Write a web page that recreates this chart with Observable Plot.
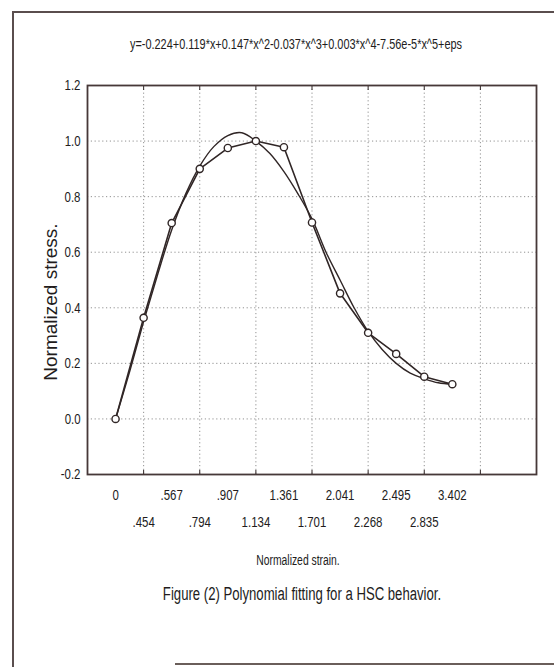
<!DOCTYPE html>
<html><head><meta charset="utf-8">
<script src="https://cdn.jsdelivr.net/npm/d3@7"></script>
<script src="https://cdn.jsdelivr.net/npm/@observablehq/plot@0.6"></script>
<style>
body{margin:0;background:#fff;}
#wrap{position:relative;width:554px;height:667px;overflow:hidden;background:#fff;font-family:"Liberation Sans",Arial,sans-serif;color:#221c1c}
#bl{position:absolute;left:12px;top:11px;width:2px;height:656px;background:#5a4e4e}
#bt{position:absolute;left:12px;top:11px;width:560px;height:2px;background:#5a4e4e}
#bb{position:absolute;left:175px;top:663px;width:400px;height:2px;background:#6a5e5a}
.t{position:absolute;white-space:nowrap;line-height:1}
#chart{position:absolute;left:0;top:0}
</style></head>
<body>
<div id="wrap">
<div id="chart"></div>
<div id="bl"></div><div id="bt"></div><div id="bb"></div>
<div class="t" style="left:296px;top:44px;font-size:14px;transform:translate(-50%,-50%) scaleX(0.78)">y=-0.224+0.119*x+0.147*x^2-0.037*x^3+0.003*x^4-7.56e-5*x^5+eps</div>
<div class="t" style="left:50px;top:302px;font-size:19px;transform:translate(-50%,-50%) rotate(-90deg)">Normalized stress.</div>
<div class="t" style="left:298px;top:560px;font-size:14px;transform:translate(-50%,-50%) scaleX(0.74)">Normalized strain.</div>
<div class="t" style="left:302px;top:594px;font-size:18px;transform:translate(-50%,-50%) scaleX(0.73)">Figure (2) Polynomial fitting for a HSC behavior.</div>
</div>
<script>
// strain tick labels (one per measured point, equally spaced)
const strainLabels = ["0",".454",".567",".794",".907","1.134","1.361","1.701","2.041","2.268","2.495","2.835","3.402"];
// measured normalized stress
const stress = [0.0,0.364,0.705,0.90,0.975,1.0,0.978,0.707,0.452,0.31,0.234,0.152,0.125];
// fitted polynomial curve (position in point-index units)
const fitPos  = [0,0.5,1,1.5,2,2.5,3,3.5,4,4.5,5,5.5,6,6.5,7,7.5,8,8.5,9,9.5,10,10.5,11,11.5,12];
const fitVals = [0.0,0.17,0.35,0.52,0.68,0.81,0.91,0.98,1.02,1.03,1.0,0.955,0.89,0.81,0.72,0.6,0.5,0.4,0.315,0.25,0.2,0.165,0.145,0.13,0.125];
// axis ticks
const yTicks = [-0.2,0,0.2,0.4,0.6,0.8,1.0,1.2];
const xGrid = [-1,1,3,5,7,9,11,13,15];

const pts = stress.map((v,i)=>({i, v}));
const fit = fitPos.map((p,k)=>({p, v: fitVals[k]}));
const idx = strainLabels.map((d,i)=>i);
const ink = "#302626";
const txt = "#221c1c";

const chart = Plot.plot({
  width: 554, height: 667,
  marginLeft: 87, marginTop: 85, marginRight: 18, marginBottom: 193,
  style: {fontFamily: "'Liberation Sans',Arial,sans-serif", fontSize: "15.5px", color: txt, background: "transparent"},
  x: {domain: [-1, 15]},
  y: {domain: [-0.2, 1.2]},
  marks: [
    Plot.gridX(xGrid, {stroke: "#777", strokeOpacity: 0.8, strokeDasharray: "1.2,2.6"}),
    Plot.gridY(yTicks, {stroke: "#777", strokeOpacity: 0.8, strokeDasharray: "1.2,2.6"}),
    Plot.axisY(yTicks, {tickSize: 0, tickPadding: 7, tickFormat: d => d.toFixed(1), label: null, fontSize: 15.5, fill: txt}),
    Plot.axisX(xGrid, {anchor: "bottom", tickSize: -4, tickFormat: () => "", label: null, stroke: ink}),
    Plot.axisX(xGrid, {anchor: "top", tickSize: -4, tickFormat: () => "", label: null, stroke: ink}),
    Plot.text(idx.filter(i => i % 2 === 0), {x: d => d, text: d => strainLabels[d], frameAnchor: "bottom", dy: 21, lineAnchor: "middle", fontSize: 15.5, fill: txt}),
    Plot.text(idx.filter(i => i % 2 === 1), {x: d => d, text: d => strainLabels[d], frameAnchor: "bottom", dy: 48, lineAnchor: "middle", fontSize: 15.5, fill: txt}),
    Plot.line(fit, {x: "p", y: "v", curve: "catmull-rom", stroke: ink, strokeWidth: 1.4}),
    Plot.line(pts, {x: "i", y: "v", stroke: ink, strokeWidth: 1.6}),
    Plot.dot(pts, {x: "i", y: "v", r: 3.6, fill: "white", stroke: ink, strokeWidth: 1.4}),
    Plot.frame({stroke: "#463838", strokeWidth: 1.8})
  ]
});
document.getElementById("chart").appendChild(chart);
// condense the chart's texts horizontally, keeping each label's anchor fixed
chart.querySelectorAll("text").forEach(t => {
  const bb = t.getBBox();
  if (!bb.width) return;
  const a = getComputedStyle(t).textAnchor;
  const cx = a === "end" ? bb.x + bb.width : a === "middle" ? bb.x + bb.width / 2 : bb.x;
  const tr = t.getAttribute("transform") || "";
  t.setAttribute("transform", `${tr} translate(${cx},0) scale(0.74,1) translate(${-cx},0)`);
});
</script>
</body></html>
